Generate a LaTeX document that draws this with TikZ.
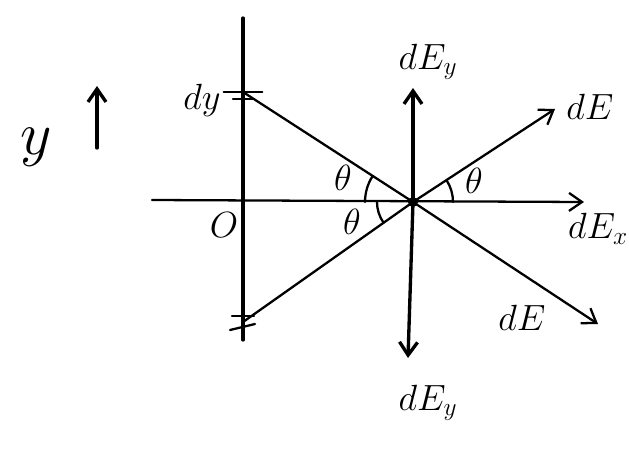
\documentclass[tikz,border=0pt]{standalone}
\usepackage{amsmath,amssymb}
\usepackage{tikz}
\usetikzlibrary{arrows.meta}
\begin{document}
\begin{tikzpicture}[x=0.2mm,y=0.2mm,>={Straight Barb[length=2.6mm,width=3.6mm]},line cap=round,
  pen/.style={line width=1.3pt},
  axispen/.style={line width=1.9pt},
  lbl/.style={font=\huge}]
\useasboundingbox (0,0) rectangle (629,459);
% charge line and field point
\coordinate (P) at (413,257);
\coordinate (A) at (243,367);
\coordinate (B) at (243,137);
\coordinate (Ltop) at (243,441);
\coordinate (Lbot) at (243,119);
\coordinate (Xl) at (152,259);
\coordinate (Xr) at (584,257);
\coordinate (Vup) at (413,371);
\coordinate (Vdn) at (408,101);
\coordinate (Eup) at (555,350);
\coordinate (Edn) at (598,135);
\coordinate (Ya) at (97,311);
\coordinate (Yb) at (97,373);
\draw[axispen] (Ltop)--(Lbot);
\draw[pen,->] (Xl)--(Xr);
\draw[axispen,->] (P)--(Vup);
\draw[axispen,->] (P)--(Vdn);
\draw[pen] (A)--(P);
\draw[pen] (B)--(P);
\draw[pen,->] (P)--(Eup);
\draw[pen,->] (P)--(Edn);
\draw[axispen,->] (Ya)--(Yb);
\fill (P) circle (5);
% ticks for dy
\draw[pen] ([xshift=-11]A)--([xshift=11]A);
\draw[pen] ([shift={(-10,-7)}]A)--([shift={(10,-7)}]A);
\draw[pen] ([shift={(-11,6)}]B)--([shift={(11,6)}]B);
\draw[pen] ([shift={(-13,-8)}]B)--([shift={(12,-2)}]B);
% angles
\draw[pen] ([shift={(147:48)}]P) arc (147:180:48);
\draw[pen] ([shift={(180:36)}]P) arc (180:215:36);
\draw[pen] ([shift={(0:40)}]P) arc (0:33:40);
\node[lbl] (t1) at (343,281) {$\theta$};
\node[lbl] (t2) at (352,237) {$\theta$};
\node[lbl] (t3) at (474,278) {$\theta$};
% labels
\node[font=\Huge,scale=1.4] (ylab) at (36,312) {$y$};
\node[lbl] (dy) at (202,359) {$dy$};
\node[lbl] (O) at (224,234) {$O$};
\node[lbl] (Eyu) at (428,397) {$dE_y$};
\node[lbl] (Eyd) at (428,56) {$dE_y$};
\node[lbl] (E1) at (590,352) {$dE$};
\node[lbl] (E2) at (522,141) {$dE$};
\node[lbl] (Ex) at (598,230) {$dE_x$};
\end{tikzpicture}
\end{document}
